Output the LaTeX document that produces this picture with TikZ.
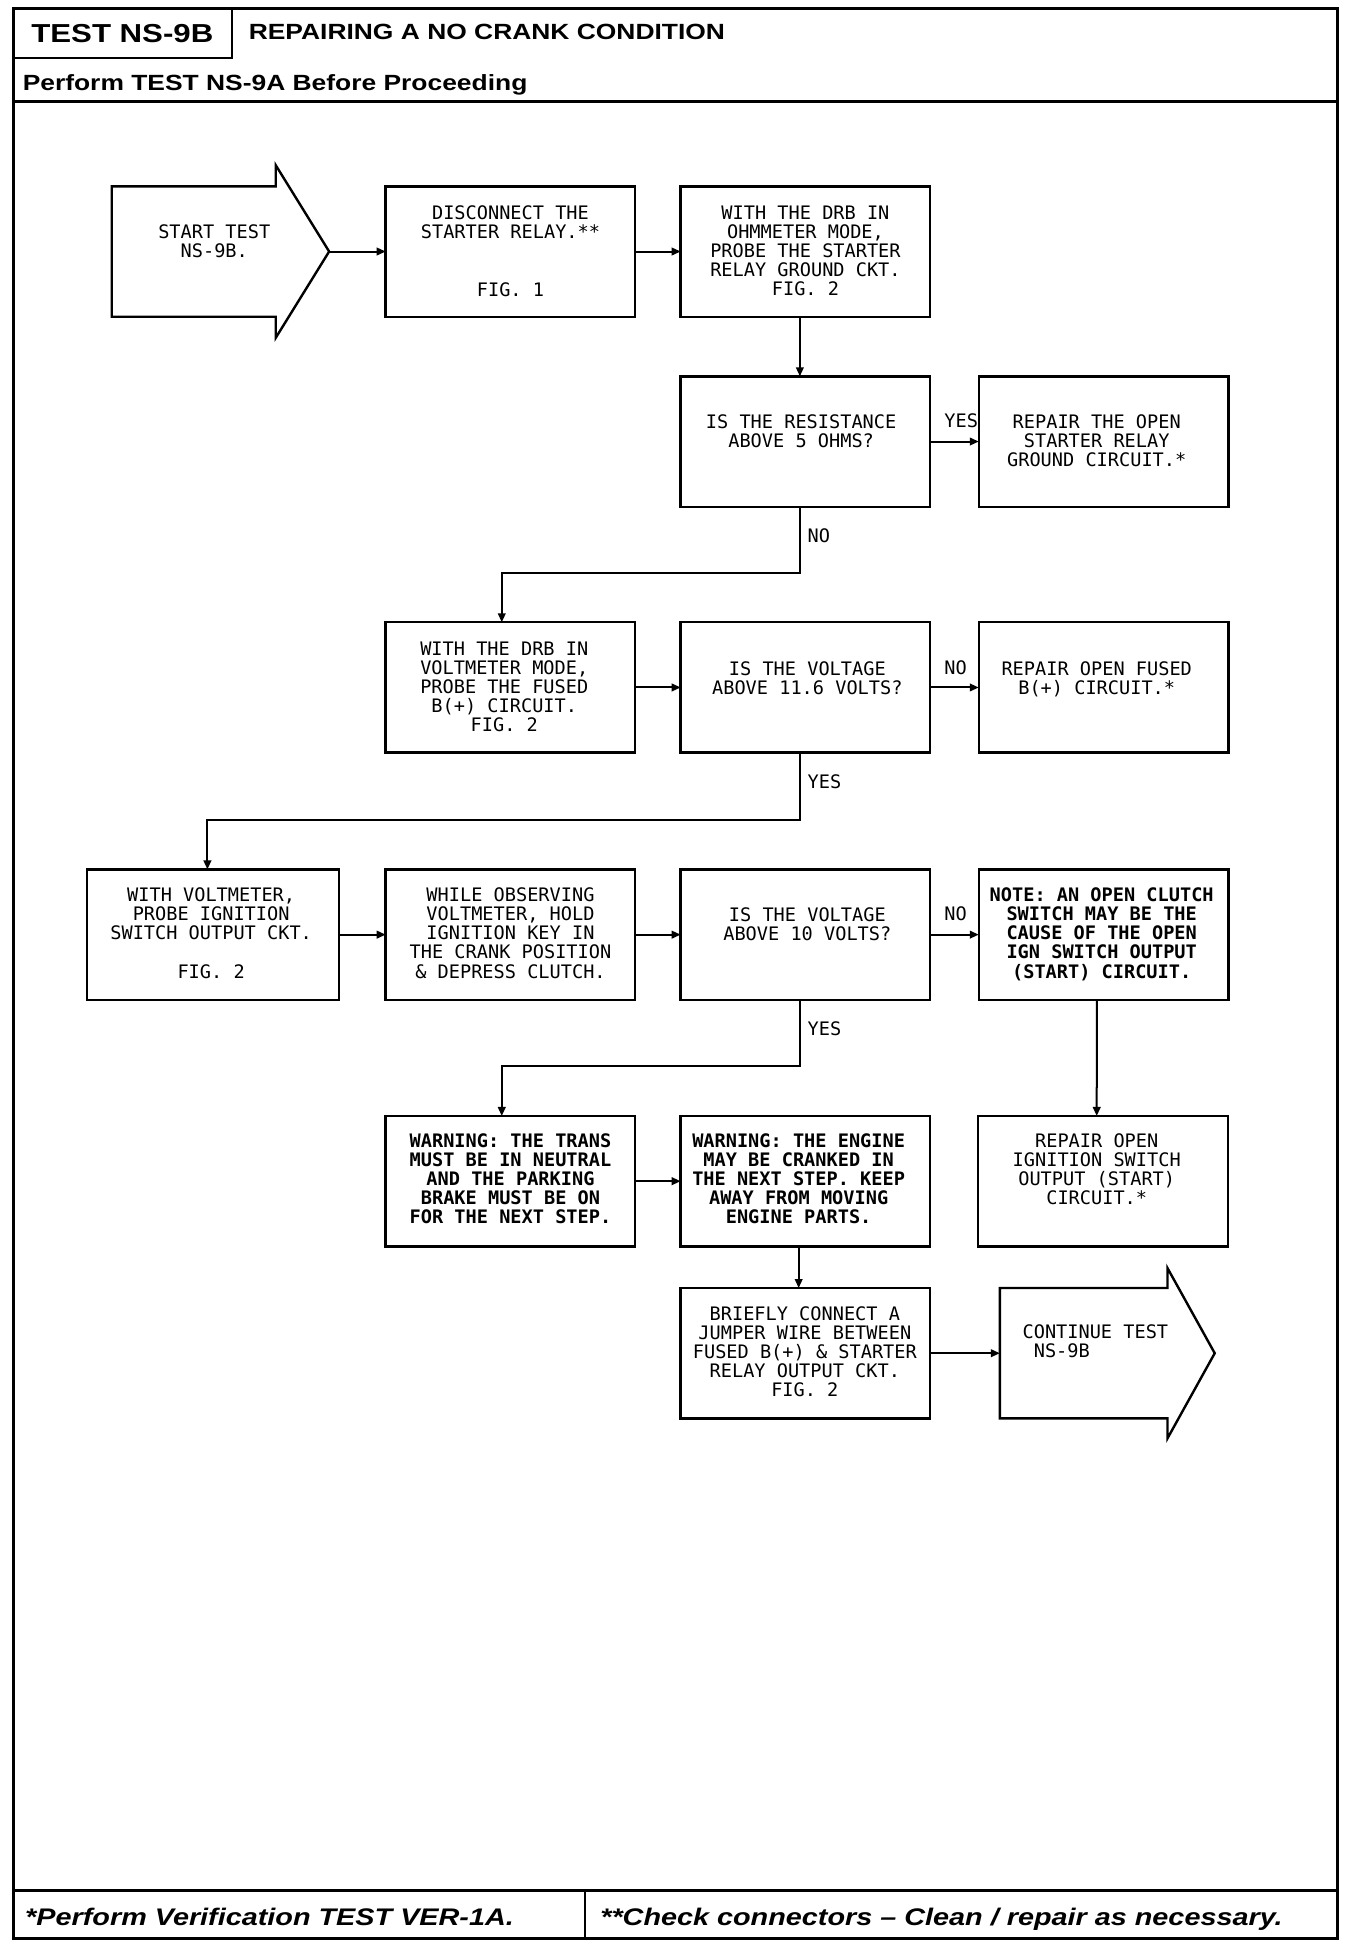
\documentclass[tikz,border=0pt]{standalone}
\usepackage{fontspec}
\usetikzlibrary{arrows.meta}
\newfontfamily\hdrfont[FakeStretch=1.2]{Liberation Sans}
\newfontfamily\plotfont{DejaVu Sans Mono}
\tikzset{
  box/.style={draw, line width=1.2pt, minimum width=124.8pt, minimum height=65.2pt, inner sep=0pt, outer sep=0pt},
  txt/.style={font=\plotfont\fontsize{9.3pt}{9.55pt}\selectfont, align=center, inner sep=0pt, anchor=north},
  txtb/.style={txt, font=\plotfont\bfseries\fontsize{9.3pt}{9.55pt}\selectfont},
  lbl/.style={font=\plotfont\fontsize{9.3pt}{9.55pt}\selectfont, inner sep=0pt, anchor=west},
  arr/.style={line width=1pt, -{Triangle[length=4.5pt,width=3.8pt]}},
  frame/.style={line width=1.5pt},
  thinframe/.style={line width=1.1pt},
  hdr/.style={font=\hdrfont\bfseries\fontsize{11pt}{13pt}\selectfont, inner sep=0pt},
  ftr/.style={font=\hdrfont\bfseries\itshape\fontsize{12pt}{14pt}\selectfont, inner sep=0pt, anchor=base west},
  shapeline/.style={line width=1.2pt, line join=miter}
}
\begin{document}
\begin{tikzpicture}[x=0.621pt,y=-0.621pt]
\useasboundingbox (0,0) rectangle (1095,1570);
% frame and header/footer
\draw[frame] (10.5,7) rectangle (1076.5,1561);
\draw[thinframe] (187,7) -- (187,47) -- (10.5,47);
\draw[frame] (10.5,82) -- (1076.5,82);
\draw[frame] (10.5,1522) -- (1076.5,1522);
\draw[thinframe] (471,1522) -- (471,1561);
\node[hdr, font=\hdrfont\bfseries\fontsize{13pt}{15pt}\selectfont] (h1) at (98.5,27) {TEST NS-9B};
\node[hdr, anchor=west] (h2) at (200,26) {REPAIRING A NO CRANK CONDITION};
\node[hdr, anchor=base west] (h3) at (18,73) {Perform TEST NS-9A Before Proceeding};
\node[ftr] (f1) at (20,1550) {*Perform Verification TEST VER-1A.};
\node[ftr] (f2) at (483,1550) {**Check connectors \textendash{} Clean / repair as necessary.};

% start arrow
\draw[shapeline] (90,150) -- (222,150) -- (222,133) -- (265,202.5) -- (222,272) -- (222,255) -- (90,255) -- cycle;
\coordinate (st) at (265,202.5);
\node[txt] (t0) at (172.5,180.5) {START TEST\\NS-9B.};

% end arrow
\draw[shapeline] (805,1037) -- (940,1037) -- (940,1021) -- (978,1089.5) -- (940,1158) -- (940,1142) -- (805,1142) -- cycle;
\coordinate (en) at (805,1089.5);
\node[txt, anchor=north west, align=left] (tend) at (823,1066.5) {CONTINUE TEST\\\hphantom{C}NS-9B};

% boxes
\node[box] (b1) at (411,202.5) {};
\node[box] (b2) at (648.5,202.5) {};
\node[box] (b3) at (648.5,355.5) {};
\node[box] (b4) at (888.5,355.5) {};
\node[box] (b5) at (411,553.5) {};
\node[box] (b6) at (648.5,553.5) {};
\node[box] (b7) at (888.5,553.5) {};
\node[box, minimum width=126.1pt] (b8) at (171.5,752.5) {};
\node[box] (b9) at (411,752.5) {};
\node[box] (b10) at (648.5,752.5) {};
\node[box] (b11) at (888.5,752.5) {};
\node[box] (b12) at (411,951) {};
\node[box] (b13) at (648.5,951) {};
\node[box] (b14) at (888,951) {};
\node[box] (b15) at (648.5,1089.5) {};

% texts
\node[txt] (t1) at (411,165.5) {DISCONNECT THE\\STARTER RELAY.**\\~\\~\\FIG. 1};
\node[txt] (t2) at (648.5,165.5) {WITH THE DRB IN\\OHMMETER MODE,\\PROBE THE STARTER\\RELAY GROUND CKT.\\FIG. 2};
\node[txt] (t3) at (645,333.5) {IS THE RESISTANCE\\ABOVE 5 OHMS?};
\node[txt] (t4) at (883,333.5) {REPAIR THE OPEN\\STARTER RELAY\\GROUND CIRCUIT.*};
\node[txt] (t5) at (406,516.5) {WITH THE DRB IN\\VOLTMETER MODE,\\PROBE THE FUSED\\B(+) CIRCUIT.\\FIG. 2};
\node[txt] (t6) at (650,532.5) {IS THE VOLTAGE\\ABOVE 11.6 VOLTS?};
\node[txt] (t7) at (883,532.5) {REPAIR OPEN FUSED\\B(+) CIRCUIT.*};
\node[txt] (t8) at (170,714.5) {WITH VOLTMETER,\\PROBE IGNITION\\SWITCH OUTPUT CKT.\\~\\FIG. 2};
\node[txt] (t9) at (411,714.5) {WHILE OBSERVING\\VOLTMETER, HOLD\\IGNITION KEY IN\\THE CRANK POSITION\\\& DEPRESS CLUTCH.};
\node[txt] (t10) at (650,730.5) {IS THE VOLTAGE\\ABOVE 10 VOLTS?};
\node[txtb] (t11) at (887,714.5) {NOTE: AN OPEN CLUTCH\\SWITCH MAY BE THE\\CAUSE OF THE OPEN\\IGN SWITCH OUTPUT\\(START) CIRCUIT.};
\node[txtb] (t12) at (411,912.5) {WARNING: THE TRANS\\MUST BE IN NEUTRAL\\AND THE PARKING\\BRAKE MUST BE ON\\FOR THE NEXT STEP.};
\node[txtb] (t13) at (643,912.5) {WARNING: THE ENGINE\\MAY BE CRANKED IN\\THE NEXT STEP. KEEP\\AWAY FROM MOVING\\ENGINE PARTS.};
\node[txt] (t14) at (883,912.5) {REPAIR OPEN\\IGNITION SWITCH\\OUTPUT (START)\\CIRCUIT.*};
\node[txt] (t15) at (648,1051.5) {BRIEFLY CONNECT A\\JUMPER WIRE BETWEEN\\FUSED B(+) \& STARTER\\RELAY OUTPUT CKT.\\FIG. 2};

% labels
\node[lbl] (l1) at (760,339) {YES};
\node[lbl] (l2) at (650,431) {NO};
\node[lbl] (l3) at (760,538) {NO};
\node[lbl] (l4) at (650,629) {YES};
\node[lbl] (l5) at (760,736) {NO};
\node[lbl] (l6) at (650,828) {YES};

% connectors
\draw[arr] (st) -- (b1.west);
\draw[arr] (b1.east) -- (b2.west);
\draw[arr] ([xshift=-2.8pt]b2.south) -- ([xshift=-2.8pt]b3.north);
\draw[arr] (b3.east) -- (b4.west);
\draw[arr] ([xshift=-2.8pt]b3.south) -- ++(0,53) -| ([xshift=-4.35pt]b5.north);
\draw[arr] (b5.east) -- (b6.west);
\draw[arr] (b6.east) -- (b7.west);
\draw[arr] ([xshift=-2.8pt]b6.south) -- ++(0,54) -| ([xshift=-2.8pt]b8.north);
\draw[arr] (b8.east) -- (b9.west);
\draw[arr] (b9.east) -- (b10.west);
\draw[arr] (b10.east) -- (b11.west);
\draw[arr] ([xshift=-2.8pt]b10.south) -- ++(0,53) -| ([xshift=-4.35pt]b12.north);
\draw[arr] ([xshift=-3.4pt]b11.south) -- ([xshift=-3.1pt]b14.north);
\draw[arr] (b12.east) -- (b13.west);
\draw[arr] ([xshift=-3.4pt]b13.south) -- ([xshift=-3.4pt]b15.north);
\draw[arr] (b15.east) -- (en);
\end{tikzpicture}
\end{document}
